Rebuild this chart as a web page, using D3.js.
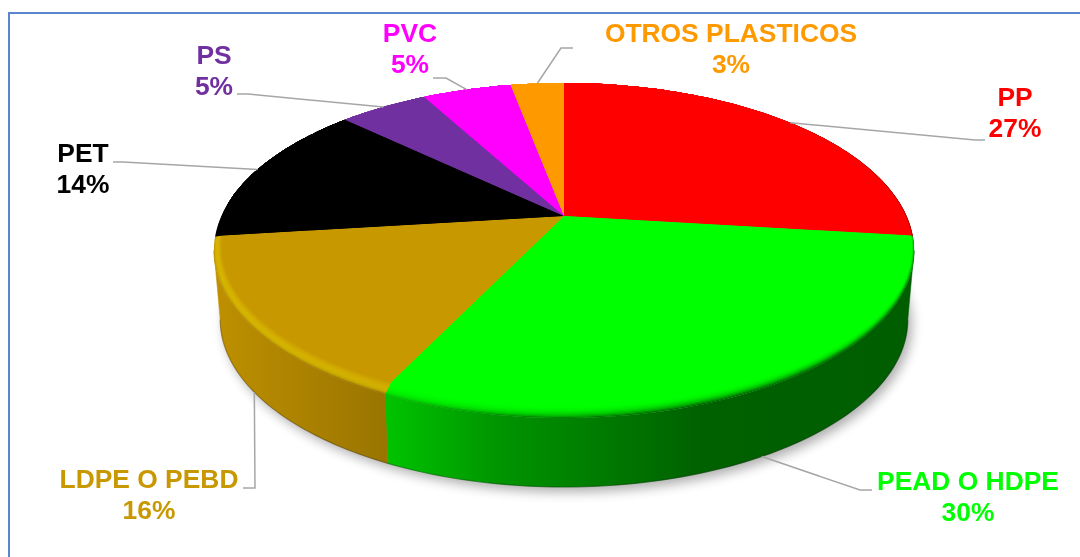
<!DOCTYPE html>
<html>
<head>
<meta charset="utf-8">
<script src="https://cdn.jsdelivr.net/npm/d3@7"></script>
<style>
    html, body { margin: 0; padding: 0; background: #fff; }
    svg { display: block; }
    text { font-family: "Liberation Sans", Arial, sans-serif; font-weight: bold; font-size: 26.4px; text-anchor: middle; }
</style>
</head>
<body>
<svg id="graph" width="1080" height="557"></svg>
<script>
// datos del grafico
const categorias = ["PP", "PEAD O HDPE", "LDPE O PEBD", "PET", "PS", "PVC", "OTROS PLASTICOS"];
const valores = [27, 30, 16, 14, 5, 5, 3];
const colores = ["#ff0000", "#00ff00", "#c89800", "#000000", "#7030a0", "#ff00ff", "#ff9900"];

// donde va cada etiqueta y el codo de su linea guia
const etiquetas = [
    { x: 1015, y: 106, codo: [[975, 140], [985, 140]], base: false },
    { x: 968, y: 490, codo: [[860, 490], [872, 490]], base: true },
    { x: 149, y: 488, codo: [[255, 488], [243, 488]], base: true },
    { x: 83, y: 162, codo: [[123, 162], [113, 162]], base: false },
    { x: 214, y: 64, codo: [[248, 94], [237, 94]], base: false },
    { x: 410, y: 42, codo: [[446, 78], [433, 78]], base: false },
    { x: 731, y: 42, codo: [[561, 48], [573, 48]], base: false }
];

// perspectiva del disco
const cx = 564, cy = 216, escalaX = 342.6, escalaY = 160.4, k = 0.206;
const alto = 69, escalaBase = 0.982;
const capas = d3.range(0, 12).map(i => i / 12);
// el costado solo se ve entre los dos puntos tangentes del contorno
const tangente = Math.acos(-k);

// cuanto se oscurece el costado segun x
const sombraX = d3.scaleLinear()
    .domain([215, 390, 500, 700, 913])
    .range([0.95, 0.76, 0.58, 0.38, 0.37]);
// brillo del bisel segun x
const brilloX = d3.scaleLinear()
    .domain([215, 390, 560, 700, 913])
    .range([0.32, 0.3, 0.12, 0, 0]);
const paradas = [215, 300, 390, 500, 560, 700, 913];
const x0 = 215, x1 = 913;

function proyecta(a, t, base) {
    // a: angulo desde arriba en sentido horario, t: 0 borde, 1 cara interior del bisel
    let c = Math.cos(a), s = Math.sin(a);
    let frente = Math.max(0, Math.min(1, (0.1 - c) / 0.2));
    let insetU = s < 0 ? 0.02 * frente : 0.006;
    let u = s * (1 - t * insetU);
    let v = c * (1 - t * 0.055 * (c < 0 ? 1 : 0));
    let w = 1 + k * v;
    let f = base ? escalaBase : 1;
    return [cx + f * escalaX * u / w, cy + (base ? alto : 0) - escalaY * v / w];
}

const linea = d3.line();
const pie = d3.pie().sort(null).value(d => d);
const arcos = pie(valores);

function muestras(a0, a1) {
    let n = Math.max(2, Math.ceil((a1 - a0) / 0.02));
    return d3.range(n + 1).map(i => a0 + (a1 - a0) * i / n);
}
function pathCara(d, t) {
    let pts = muestras(d.startAngle, d.endAngle).map(a => proyecta(a, t, false));
    return linea([[cx, cy]].concat(pts)) + "Z";
}
function pathCostado(d) {
    let a0 = Math.max(d.startAngle, tangente), a1 = Math.min(d.endAngle, Math.PI * 2 - tangente);
    if (a1 <= a0) return null;
    let arr = muestras(a0, a1);
    let pts = arr.map(a => proyecta(a, 0, false)).concat(arr.slice().reverse().map(a => proyecta(a, 0, true)));
    return linea(pts) + "Z";
}

let svg = d3.select("#graph");
let defs = svg.append("defs");

defs.append("filter").attr("id", "blur")
    .attr("x", "-10%").attr("y", "-10%").attr("width", "120%").attr("height", "130%")
    .append("feGaussianBlur").attr("stdDeviation", 6);

function gradiente(id, fn) {
    let g = defs.append("linearGradient").attr("id", id)
        .attr("gradientUnits", "userSpaceOnUse")
        .attr("x1", x0).attr("x2", x1).attr("y1", 0).attr("y2", 0);
    paradas.forEach(x => {
        let e = fn(x);
        g.append("stop")
            .attr("offset", (x - x0) / (x1 - x0))
            .attr("stop-color", e[0])
            .attr("stop-opacity", e[1]);
    });
}

// degradado del costado de cada porcion
colores.forEach((c, i) => {
    gradiente("lado" + i, x => [d3.interpolateRgb("#000", c)(sombraX(x)), 1]);
});
// degradados del bisel, uno oscuro y uno claro por capa
capas.forEach((t, j) => {
    gradiente("osc" + j, x => ["#000", (1 - sombraX(x)) * Math.pow(1 - t, 3)]);
    gradiente("luz" + j, x => ["#fff", brilloX(x) * Math.sin(Math.PI * Math.pow(t, 0.6))]);
});

// marco azul
svg.append("path")
    .attr("d", "M9,557V13H1080")
    .attr("fill", "none")
    .attr("stroke", "#5b85cc")
    .attr("stroke-width", 2);

// sombra bajo el disco
let contorno = muestras(0, Math.PI * 2);
svg.append("path")
    .attr("d", linea(contorno.map(a => proyecta(a, 0, true))) + "Z")
    .attr("transform", "translate(4,5)")
    .attr("fill", "#000")
    .attr("opacity", 0.32)
    .attr("filter", "url(#blur)");

// costados
let conCostado = arcos.filter(d => pathCostado(d) !== null);
svg.append("g").selectAll("path")
    .data(conCostado)
    .enter().append("path")
    .attr("d", pathCostado)
    .attr("fill", d => "url(#lado" + d.index + ")")
    .attr("stroke", d => "url(#lado" + d.index + ")")
    .attr("stroke-width", 0.5);

// borde inferior un poco mas oscuro
svg.append("path")
    .attr("d", linea(muestras(tangente, Math.PI * 2 - tangente).map(a => proyecta(a, 0, true))))
    .attr("fill", "none")
    .attr("stroke", "#000")
    .attr("stroke-opacity", 0.25)
    .attr("stroke-width", 1.2);

// bisel, capa por capa de afuera hacia adentro
let bisel = svg.append("g").style("isolation", "isolate");
capas.forEach((t, j) => {
    arcos.forEach(d => {
        let p = pathCara(d, t);
        bisel.append("path").attr("d", p).attr("fill", colores[d.index]);
        bisel.append("path").attr("d", p).attr("fill", "url(#osc" + j + ")");
        bisel.append("path").attr("d", p).attr("fill", "url(#luz" + j + ")")
            .style("mix-blend-mode", "overlay");
    });
});

// cara superior
svg.append("g").selectAll("path")
    .data(arcos)
    .enter().append("path")
    .attr("d", d => pathCara(d, 1))
    .attr("fill", d => colores[d.index]);

// lineas guia
svg.append("g").selectAll("path")
    .data(arcos)
    .enter().append("path")
    .attr("d", d => {
        let e = etiquetas[d.index];
        let medio = (d.startAngle + d.endAngle) / 2;
        return linea([proyecta(medio, 0, e.base)].concat(e.codo));
    })
    .attr("fill", "none")
    .attr("stroke", "#a6a6a6")
    .attr("stroke-width", 1.5);

// etiquetas
let textos = svg.append("g").selectAll("text")
    .data(categorias)
    .enter().append("text")
    .attr("y", (d, i) => etiquetas[i].y)
    .attr("fill", (d, i) => colores[i]);
textos.append("tspan").attr("x", (d, i) => etiquetas[i].x).text(d => d);
textos.append("tspan").attr("x", (d, i) => etiquetas[i].x).attr("dy", 31).text((d, i) => valores[i] + "%");
</script>
</body>
</html>
